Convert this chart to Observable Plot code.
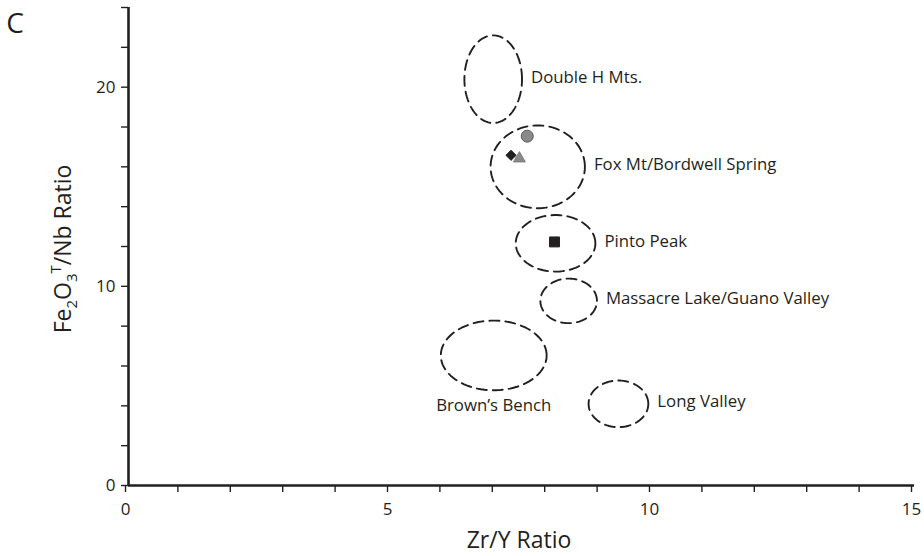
<!DOCTYPE html>
<html>
<head>
<meta charset="utf-8">
<script src="https://cdn.jsdelivr.net/npm/d3@7"></script>
<script src="https://cdn.jsdelivr.net/npm/@observablehq/plot@0.6"></script>
<style>
  html, body { margin: 0; padding: 0; background: #fff; }
  #chart { position: relative; width: 924px; height: 556px; }
</style>
</head>
<body>
<div id="chart"></div>
<script>
// Fields (dashed ellipses)
const regions = ["Double H Mts.", "Fox Mt/Bordwell Spring", "Pinto Peak", "Massacre Lake/Guano Valley", "Brown’s Bench", "Long Valley"];
const regionCx = [6.96, 7.81, 8.15, 8.40, 6.97, 9.35];
const regionCy = [20.4, 16.0, 12.16, 9.27, 6.53, 4.1];
const regionRx = [0.55, 0.9, 0.76, 0.54, 1.01, 0.57];
const regionRy = [2.2, 2.08, 1.42, 1.12, 1.75, 1.17];
const labelBelow = [false, false, false, false, true, false];

// Samples
const sampleX = [7.61, 7.30, 7.46, 8.13];
const sampleY = [17.54, 16.58, 16.42, 12.23];
const sampleSymbol = ["circle", "diamond2", "triangle", "square"];

// Axes
const xTicks = d3.range(0, 16, 1);
const xTickLabels = [0, 5, 10, 15];
const yTicks = d3.range(0, 25, 2);
const yTickLabels = [0, 10, 20];

const ink = "#231f20";

const regionTable = regions.map((name, i) => ({
  name, cx: regionCx[i], cy: regionCy[i], rx: regionRx[i], ry: regionRy[i], below: labelBelow[i]
}));
const outline = regionTable.flatMap(r =>
  d3.range(0, 361, 4).map(a => ({
    name: r.name,
    x: r.cx + r.rx * Math.cos(a * Math.PI / 180),
    y: r.cy + r.ry * Math.sin(a * Math.PI / 180)
  }))
);
const samples = sampleX.map((x, i) => ({x, y: sampleY[i], symbol: sampleSymbol[i]}));
const symbolFill = {circle: "#8a8a8a", diamond2: ink, triangle: "#8a8a8a", square: ink};
const symbolStroke = {circle: "#5a5a5a", diamond2: ink, triangle: "#777777", square: ink};
const symbolR = {circle: 6, diamond2: 4.6, triangle: 4.4, square: 5.6};

const plot = Plot.plot({
  width: 924,
  height: 556,
  marginLeft: 128,
  marginRight: 10,
  marginTop: 7,
  marginBottom: 71,
  style: {fontFamily: "'Open Sans', sans-serif", fontSize: "16px", color: ink, background: "white", overflow: "visible"},
  x: {domain: [0, 15]},
  y: {domain: [0, 24]},
  r: {type: "identity"},
  marks: [
    Plot.axisX({ticks: xTicks, tickFormat: d => xTickLabels.includes(d) ? d : "", tickSize: 7, tickPadding: 10, fontSize: 17, stroke: ink, strokeWidth: 1.4, label: null, dx: -3}),
    Plot.axisY({ticks: yTicks, tickFormat: d => yTickLabels.includes(d) ? d : "", tickSize: 7, tickPadding: 6, fontSize: 17, stroke: ink, strokeWidth: 1.4, label: null}),
    Plot.ruleX([0], {stroke: ink, strokeWidth: 2.6}),
    Plot.ruleY([0], {stroke: ink, strokeWidth: 2.6}),
    Plot.line(outline, {x: "x", y: "y", z: "name", stroke: ink, strokeWidth: 1.9, strokeDasharray: "10,6", curve: "linear"}),
    Plot.text(regionTable.filter(r => !r.below), {x: d => d.cx + d.rx, y: "cy", text: "name", textAnchor: "start", dx: 9, dy: -2, fontSize: 16.8, fill: ink}),
    Plot.text(regionTable.filter(r => r.below), {x: "cx", y: d => d.cy - d.ry, text: "name", textAnchor: "middle", dy: 15, fontSize: 16.8, fill: ink}),
    Plot.dot(samples, {x: "x", y: "y", symbol: d => d.symbol, r: d => symbolR[d.symbol], fill: d => symbolFill[d.symbol], stroke: d => symbolStroke[d.symbol], strokeWidth: 1})
  ]
});

document.getElementById("chart").appendChild(plot);

const svg = d3.select(plot);
svg.append("text")
  .attr("x", 15).attr("y", 33)
  .attr("font-size", 28).attr("fill", ink)
  .text("C");

svg.append("text")
  .attr("x", 519).attr("y", 548)
  .attr("text-anchor", "middle")
  .attr("font-size", 23).attr("fill", ink)
  .text("Zr/Y Ratio");

const yl = svg.append("text")
  .attr("transform", "translate(71,249) rotate(-90)")
  .attr("text-anchor", "middle")
  .attr("font-size", 23).attr("fill", ink);
yl.append("tspan").text("Fe");
yl.append("tspan").attr("font-size", 15).attr("dy", 6).text("2");
yl.append("tspan").attr("dy", -6).text("O");
yl.append("tspan").attr("font-size", 15).attr("dy", 6).text("3");
yl.append("tspan").attr("font-size", 15).attr("dy", -16).text("T");
yl.append("tspan").attr("dy", 10).text("/Nb Ratio");
</script>
</body>
</html>
